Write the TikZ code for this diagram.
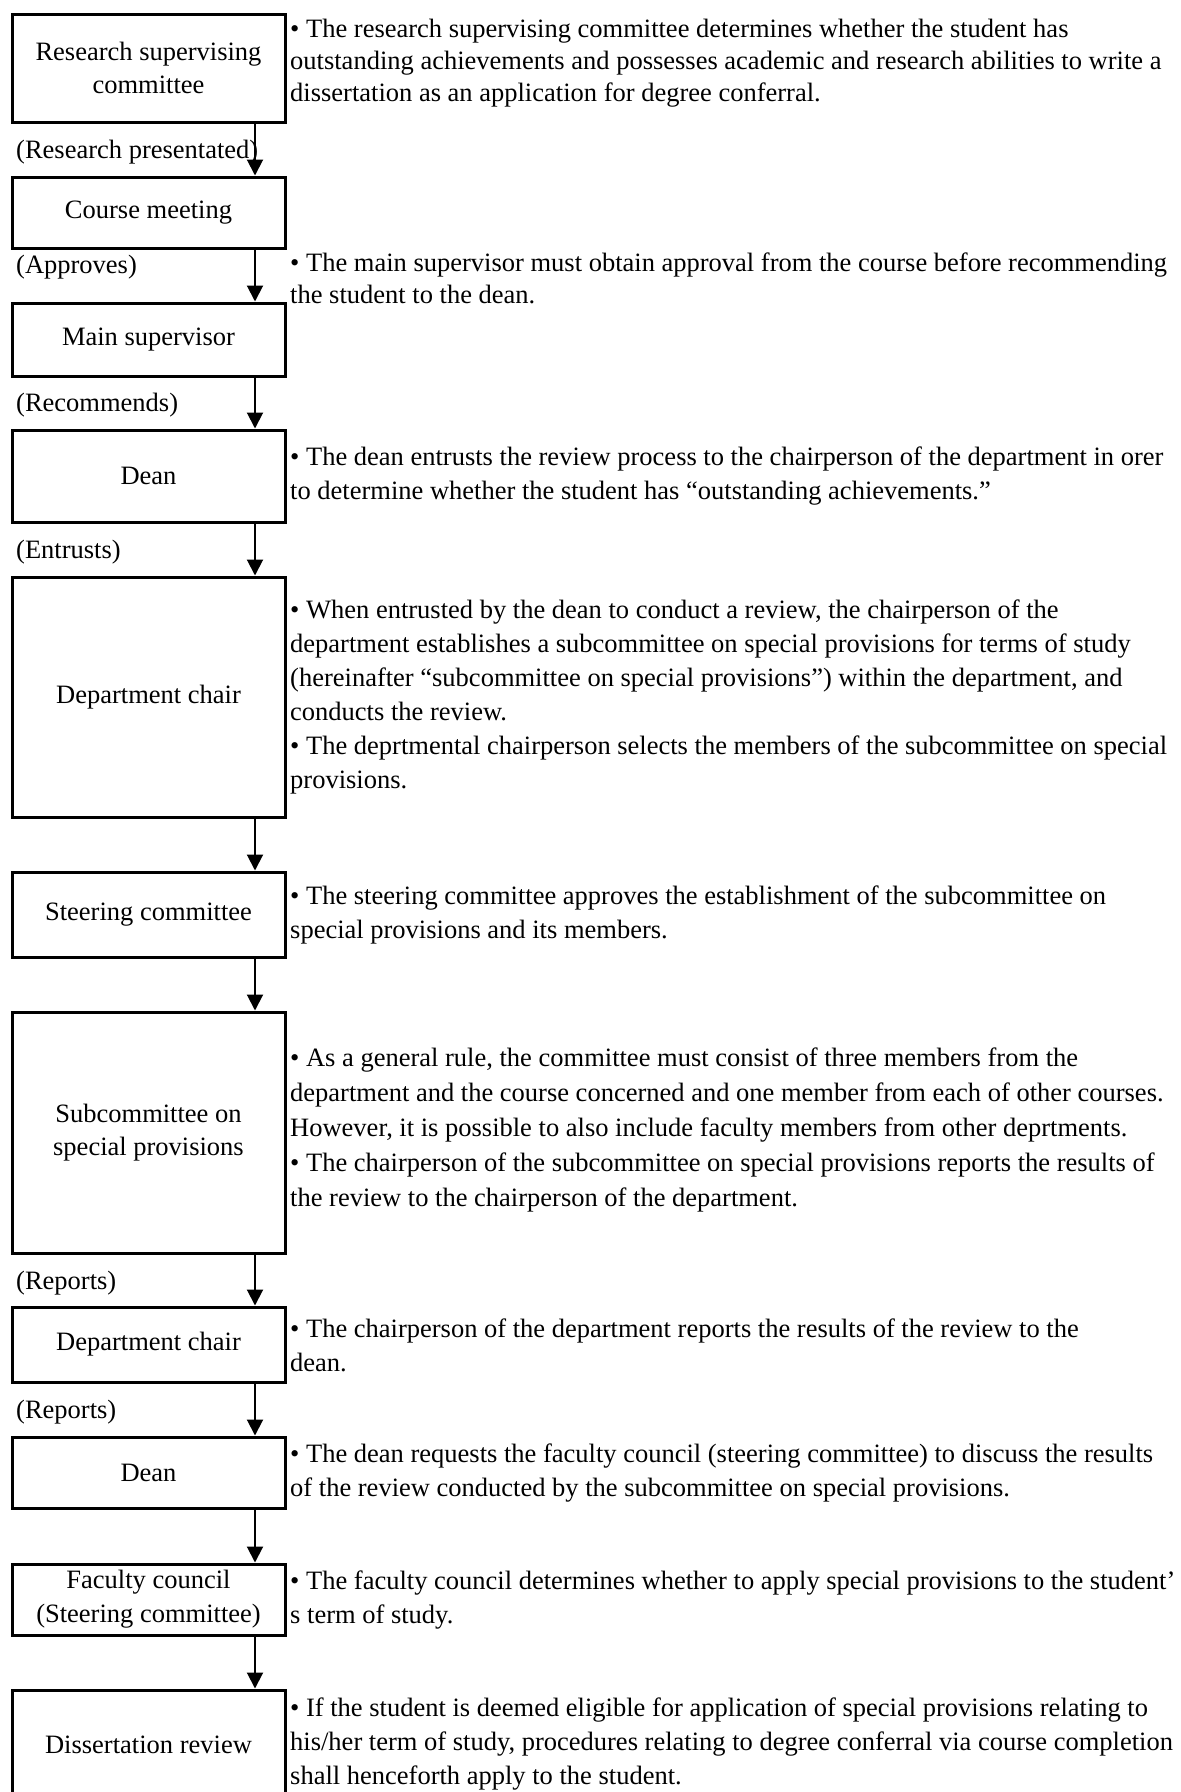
\documentclass[tikz,border=0pt]{standalone}
\usepackage{fontspec}
\setmainfont{Liberation Serif}
\usetikzlibrary{arrows.meta}
\tikzset{
  boxnode/.style={draw, line width=3pt, minimum width=273pt, inner sep=0pt, align=center,
    font=\fontsize{26.5}{33}\selectfont},
  note/.style={anchor=west, inner sep=0pt, align=left, font=\fontsize{26.5}{34}\selectfont},
  notetight/.style={note, font=\fontsize{26.5}{32}\selectfont},
  lbl/.style={anchor=west, inner sep=0pt, font=\fontsize{26.5}{32}\selectfont},
  arr/.style={line width=2pt, -{Triangle[width=16pt,length=16pt]}}
}
\begin{document}
\begin{tikzpicture}[x=1pt,y=-1pt]
\clip (0,0) rectangle (1181,1792);
\fill[white] (0,0) rectangle (1181,1792);
\coordinate (ax) at (255,0);
% boxes
\node[boxnode, minimum height=108pt] (b1) at (148.5,68) {Research supervising\\committee};
\node[boxnode, minimum height=71pt] (b2) at (148.5,212.5) {Course meeting};
\node[boxnode, minimum height=73pt] (b3) at (148.5,339.5) {Main supervisor};
\node[boxnode, minimum height=92pt] (b4) at (148.5,476) {Dean};
\node[boxnode, minimum height=240pt] (b5) at (148.5,697) {Department chair};
\node[boxnode, minimum height=85pt] (b6) at (148.5,914.5) {Steering committee};
\node[boxnode, minimum height=241pt] (b7) at (148.5,1132.5) {Subcommittee on\\special provisions};
\node[boxnode, minimum height=75pt] (b8) at (148.5,1344.5) {Department chair};
\node[boxnode, minimum height=71pt] (b9) at (148.5,1472.5) {Dean};
\node[boxnode, minimum height=71pt, font=\fontsize{26.5}{34}\selectfont] (b10) at (148.5,1599.5) {Faculty council\\(Steering committee)};
\node[boxnode, minimum height=110pt] (b11) at (148.5,1745) {Dissertation review};
% arrows
\draw[arr] (b1.south -| ax) -- (b2.north -| ax);
\draw[arr] (b2.south -| ax) -- (b3.north -| ax);
\draw[arr] (b3.south -| ax) -- (b4.north -| ax);
\draw[arr] (b4.south -| ax) -- (b5.north -| ax);
\draw[arr] (b5.south -| ax) -- (b6.north -| ax);
\draw[arr] (b6.south -| ax) -- (b7.north -| ax);
\draw[arr] (b7.south -| ax) -- (b8.north -| ax);
\draw[arr] (b8.south -| ax) -- (b9.north -| ax);
\draw[arr] (b9.south -| ax) -- (b10.north -| ax);
\draw[arr] (b10.south -| ax) -- (b11.north -| ax);
% arrow labels
\node[lbl] (l1) at (16,152) {(Research presentated)};
\node[lbl] (l2) at (16,267) {(Approves)};
\node[lbl] (l3) at (16,405) {(Recommends)};
\node[lbl] (l4) at (16,552) {(Entrusts)};
\node[lbl] (l5) at (16,1283) {(Reports)};
\node[lbl] (l6) at (16,1412) {(Reports)};
% notes
\node[notetight] (n1) at (290,63) {• The research supervising committee determines whether the student has\\
outstanding achievements and possesses academic and research abilities to write a\\
dissertation as an application for degree conferral.};
\node[notetight] (n2) at (290,278) {• The main supervisor must obtain approval from the course before recommending\\
the student to the dean.};
\node[note] (n3) at (290,476.5) {• The dean entrusts the review process to the chairperson of the department in orer\\
to determine whether the student has “outstanding achievements.”};
\node[note] (n4) at (290,697) {• When entrusted by the dean to conduct a review, the chairperson of the\\
department establishes a subcommittee on special provisions for terms of study\\
(hereinafter “subcommittee on special provisions”) within the department, and\\
conducts the review.\\
• The deprtmental chairperson selects the members of the subcommittee on special\\
provisions.};
\node[note] (n5) at (290,915) {• The steering committee approves the establishment of the subcommittee on\\
special provisions and its members.};
\node[note, font=\fontsize{26.5}{35}\selectfont] (n6) at (290,1130) {• As a general rule, the committee must consist of three members from the\\
department and the course concerned and one member from each of other courses.\\
However, it is possible to also include faculty members from other deprtments.\\
• The chairperson of the subcommittee on special provisions reports the results of\\
the review to the chairperson of the department.};
\node[note] (n7) at (290,1345) {• The chairperson of the department reports the results of the review to the\\
dean.};
\node[note] (n8) at (290,1473) {• The dean requests the faculty council (steering committee) to discuss the results\\
of the review conducted by the subcommittee on special provisions.};
\node[note] (n9) at (290,1600) {• The faculty council determines whether to apply special provisions to the student’\\
s term of study.};
\node[note] (n10) at (290,1744) {• If the student is deemed eligible for application of special provisions relating to\\
his/her term of study, procedures relating to degree conferral via course completion\\
shall henceforth apply to the student.};
\end{tikzpicture}
\end{document}
